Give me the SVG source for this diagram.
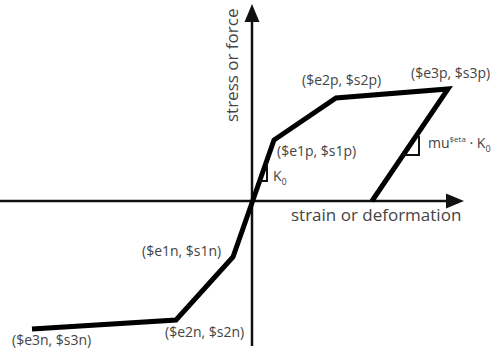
<svg xmlns="http://www.w3.org/2000/svg" width="501" height="353" viewBox="0 0 501 353">
<style>
.axis{stroke:#111;stroke-width:2.5;fill:none}
.curve{stroke:#000;stroke-width:5;fill:none;stroke-linejoin:miter}
.tri{stroke:#111;stroke-width:2;fill:none}
text{font-family:"Open Sans","Noto Sans",sans-serif;fill:#444;font-size:14px}
.ax{font-size:17px}
</style>
<rect width="501" height="353" fill="#fff"/>
<g id="connectors">
<line class="axis" x1="0" y1="201" x2="448" y2="201"/>
<polygon points="464,201 446,193.5 446,208.5" fill="#111"/>
<line class="axis" x1="252" y1="346" x2="252" y2="20"/>
<polygon points="252,4 244.5,22 259.5,22" fill="#111"/>
<polyline class="curve" points="32,329 176,320 233,257 274,140 336,98 448,89 372,201"/>
<polyline class="tri" points="259.6,181 267,181 267,162"/>
<polyline class="tri" points="403,155 419,155 419,136"/>
</g>
<g id="labels">
<text class="ax" transform="translate(238,122) rotate(-90)">stress or force</text>
<text class="ax" x="291" y="221">strain or deformation</text>
<text x="302" y="85">($e2p, $s2p)</text>
<text x="411" y="78">($e3p, $s3p)</text>
<text x="277" y="156">($e1p, $s1p)</text>
<text x="142" y="256">($e1n, $s1n)</text>
<text x="165" y="337">($e2n, $s2n)</text>
<text x="12" y="345">($e3n, $s3n)</text>
<text x="273" y="181" font-size="15">K<tspan font-size="9" dy="4">0</tspan></text>
<text x="428" y="148">mu<tspan font-size="8" dy="-6">$eta</tspan><tspan dy="6"> · K</tspan><tspan font-size="9" dy="4">0</tspan></text>
</g>
</svg>
